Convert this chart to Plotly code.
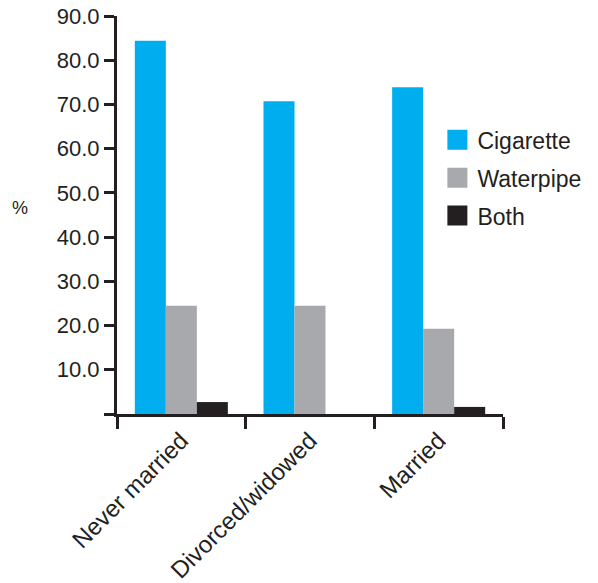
import plotly.graph_objects as go

categories = ["Never married", "Divorced/widowed", "Married"]
cigarette = [84.4, 70.7, 73.9]
waterpipe = [24.5, 24.5, 19.3]
both = [2.7, None, 1.6]
series_names = ["Cigarette", "Waterpipe", "Both"]
colors = ["#00AEEF", "#A7A9AC", "#231F20"]
ytick_vals = [0, 10, 20, 30, 40, 50, 60, 70, 80, 90]
ytick_text = [""] + [f"{v:.1f}" for v in ytick_vals[1:]]

TXT = "#231F20"
FONT = "Liberation Sans, Arial, sans-serif"

fig = go.Figure()
for name, vals, col in zip(series_names, [cigarette, waterpipe, both], colors):
    fig.add_trace(go.Bar(x=categories, y=vals, name=name, marker_color=col,
                         marker_line_width=0, showlegend=False))
    fig.add_trace(go.Scatter(x=[None], y=[None], mode="markers", name=name,
                             legendgroup=name,
                             marker=dict(symbol="square", size=16, color=col,
                                         line=dict(color=col, width=4))))

fig.update_layout(
    width=598, height=583,
    margin=dict(l=117, r=95, t=16, b=169, autoexpand=False),
    paper_bgcolor="white", plot_bgcolor="white",
    barmode="group", bargap=0.277, bargroupgap=0,
    font=dict(family=FONT, size=22, color=TXT),
    legend=dict(x=0.83, y=0.743, xanchor="left", yanchor="top",
                font=dict(size=23, color=TXT), itemsizing="trace",
                traceorder="grouped", tracegroupgap=5,
                bgcolor="rgba(0,0,0,0)"),
    annotations=[dict(text="%", x=-0.251, y=0.5176, xref="paper", yref="paper",
                      xanchor="center", yanchor="middle",
                      showarrow=False, font=dict(size=18, color=TXT))],
)

fig.update_xaxes(
    type="category", tickson="boundaries", ticks="outside", ticklen=12,
    tickwidth=3, tickcolor=TXT, showline=True, linewidth=3, linecolor=TXT,
    showgrid=False, tickangle=-45, tickfont=dict(size=24, color=TXT),
    range=[-0.5, 2.5], zeroline=False, automargin=False,
)
fig.update_yaxes(
    range=[0, 90], tickvals=ytick_vals, ticktext=ytick_text,
    ticks="outside", ticklen=10, tickwidth=3, tickcolor=TXT,
    showline=True, linewidth=3, linecolor=TXT, showgrid=False, zeroline=False,
    tickfont=dict(size=22, color=TXT), ticklabelstandoff=0, automargin=False,
    ticklabeloverflow="allow",
)

fig.write_html("out.html", config={"displayModeBar": False},
               post_script="document.body.style.margin='0';")
